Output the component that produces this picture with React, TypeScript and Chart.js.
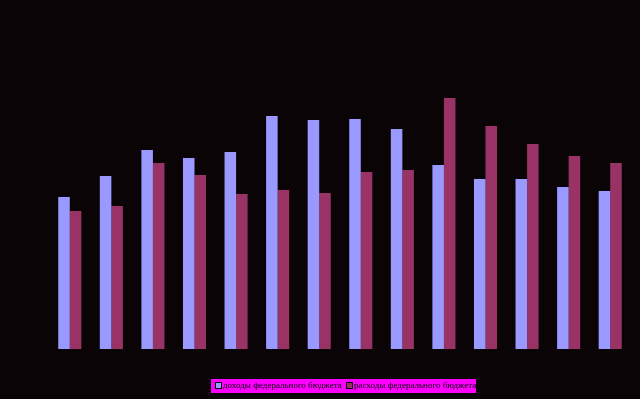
import React, { useEffect, useRef } from "react";
import { Chart, registerables } from "chart.js";

Chart.register(...registerables);

const categories = ["1", "2", "3", "4", "5", "6", "7", "8", "9", "10", "11", "12", "13", "14"];
const revenues = [152, 173, 199, 191, 197, 233, 229, 230, 220, 184, 170, 170, 162, 158];
const expenses = [138, 143, 186, 174, 155, 159, 156, 177, 179, 251, 223, 205, 193, 186];
const seriesNames = ["доходы федерального бюджета", "расходы федерального бюджета"];
const seriesColors = ["#9999ff", "#993366"];

const BG = "#0a0406";

const bgPlugin = {
  id: "bgPlugin",
  beforeDraw(chart: any) {
    const { ctx, width, height } = chart;
    ctx.save();
    ctx.fillStyle = BG;
    ctx.fillRect(0, 0, width, height);
    ctx.restore();
  },
};

const legendPlugin = {
  id: "customLegend",
  afterDraw(chart: any) {
    const { ctx } = chart;
    ctx.save();
    ctx.fillStyle = "#ff00ff";
    ctx.fillRect(211, 379, 265, 14);
    ctx.font = "9px 'Liberation Serif', serif";
    ctx.textBaseline = "middle";
    const starts = [215, 346];
    chart.data.datasets.forEach((ds: any, i: number) => {
      const x = starts[i];
      ctx.fillStyle = ds.backgroundColor;
      ctx.fillRect(x, 382, 6, 6);
      ctx.strokeStyle = "#000000";
      ctx.lineWidth = 1;
      ctx.strokeRect(x + 0.5, 382.5, 6, 6);
      ctx.fillStyle = "#000000";
      ctx.fillText(ds.label, x + 8, 386);
    });
    ctx.restore();
  },
};

export default function App() {
  const ref = useRef<HTMLCanvasElement>(null);
  useEffect(() => {
    document.body.style.margin = "0";
    document.body.style.background = BG;
    const chart = new Chart(ref.current!, {
      type: "bar",
      data: {
        labels: categories,
        datasets: [
          { label: seriesNames[0], data: revenues, backgroundColor: seriesColors[0], borderWidth: 0 },
          { label: seriesNames[1], data: expenses, backgroundColor: seriesColors[1], borderWidth: 0 },
        ],
      },
      options: {
        animation: false,
        responsive: false,
        maintainAspectRatio: false,
        layout: { padding: { left: 49, right: 9, top: 49, bottom: 50 } },
        plugins: { legend: { display: false }, tooltip: { enabled: false } },
        datasets: { bar: { categoryPercentage: 0.555, barPercentage: 1 } },
        scales: {
          x: { display: false, grid: { display: false } },
          y: { display: false, min: 0, max: 300, grid: { display: false } },
        },
      },
      plugins: [bgPlugin, legendPlugin],
    });
    return () => chart.destroy();
  }, []);
  return (
    <div style={{ width: 640, height: 399 }}>
      <canvas ref={ref} width={640} height={399} style={{ display: "block" }} />
    </div>
  );
}
